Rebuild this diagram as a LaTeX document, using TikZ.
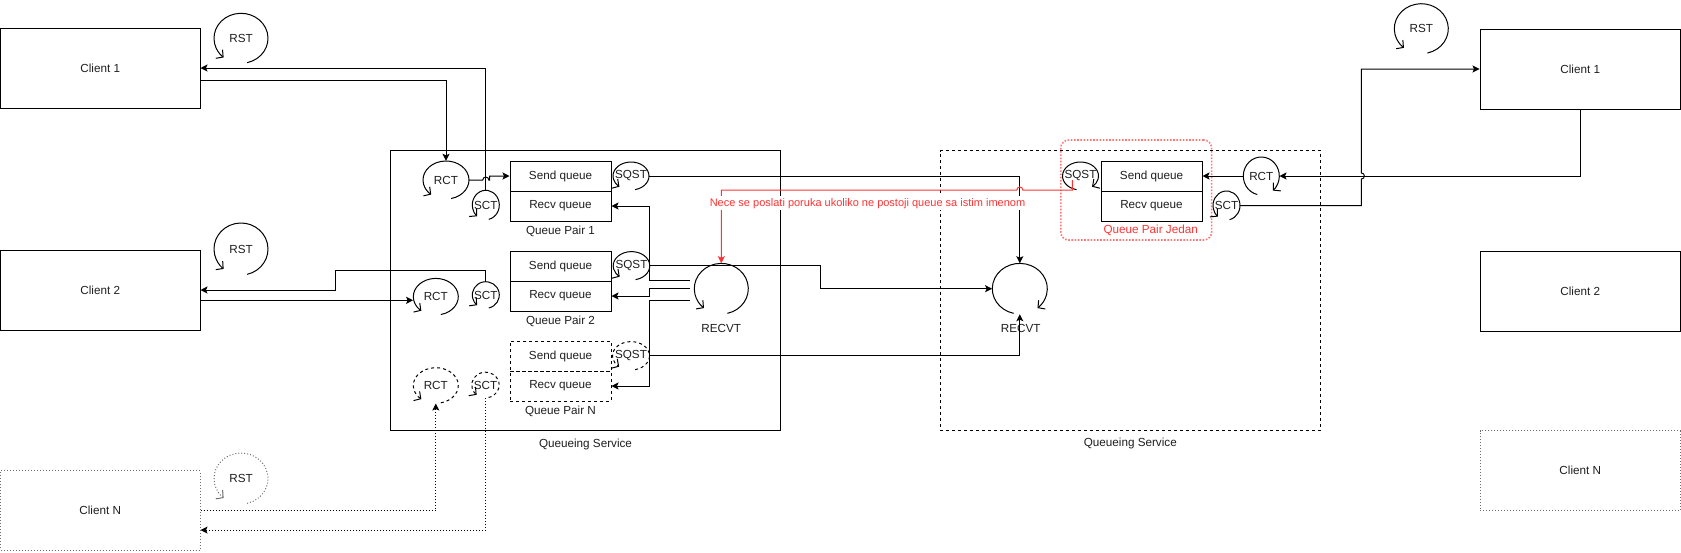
\documentclass[tikz,border=0pt]{standalone}
\usepackage{fontspec}
\setmainfont{Liberation Sans}
\usetikzlibrary{arrows.meta,shapes.geometric,calc}
\definecolor{redc}{RGB}{255,51,51}
\definecolor{pinkc}{RGB}{255,120,120}
\definecolor{grayc}{RGB}{110,110,110}
\definecolor{txt}{RGB}{30,30,30}

\tikzset{
  every node/.style={font=\fontsize{11.7}{14}\selectfont, inner sep=0pt, text=txt},
  clientbox/.style={draw, line width=1pt, minimum width=199.5pt, minimum height=80pt},
  qbox/.style={draw, line width=1pt, minimum width=101pt, minimum height=30pt},
  symnode/.style={inner sep=0pt},
  conn/.style={line width=1pt, -{Stealth[length=7pt,width=7pt,inset=1.5pt]}},
  plainline/.style={line width=1pt},
  cycline/.style={line width=1pt, -{Straight Barb[length=5pt,width=11pt]}},
  dashedb/.style={dash pattern=on 3pt off 3pt},
  dottedg/.style={draw=grayc, dash pattern=on 1pt off 2pt},
  dotconn/.style={dash pattern=on 1pt off 2pt},
}

% normal cycle symbol: arrow at lower left
\newcommand{\cyclsym}[7]{%
  \node[symnode, minimum width=#4*2pt, minimum height=#5*2pt] (#1) at (#2,#3) {#6};
  \draw[cycline,#7] (#1.center) ++(-77:#4pt and #5pt)
    arc[start angle=-77,end angle=230,x radius=#4pt,y radius=#5pt];}
% mirrored cycle symbol: arrow at lower right
\newcommand{\cyclsymm}[7]{%
  \node[symnode, minimum width=#4*2pt, minimum height=#5*2pt] (#1) at (#2,#3) {#6};
  \draw[cycline,#7] (#1.center) ++(257:#4pt and #5pt)
    arc[start angle=257,end angle=-50,x radius=#4pt,y radius=#5pt];}

\begin{document}
\begin{tikzpicture}[x=1pt,y=-1pt]
\useasboundingbox (0,0) rectangle (1681,552);

% ---------- containers ----------
\node[draw, line width=1pt, minimum width=389.3pt, minimum height=279.3pt] (qsL) at (585.35,290.35) {};
\node (qsLl) at (585.5,444) {Queueing Service};
\node[draw, line width=1pt, dashedb, minimum width=380.6pt, minimum height=279.3pt] (qsR) at (1130.3,290.35) {};
\node (qsRl) at (1130.3,443.3) {Queueing Service};
\node[draw=pinkc, line width=1.6pt, dash pattern=on 1.6pt off 1.6pt, rounded corners=8pt,
      minimum width=150.8pt, minimum height=100pt] (qpj) at (1136.2,190) {};

% ---------- clients ----------
\node[clientbox] (c1L) at (100.25,68) {Client 1};
\node[clientbox] (c2L) at (100.25,290) {Client 2};
\node[clientbox, dottedg, minimum height=79.3pt] (cNL) at (100.25,510.35) {Client N};
\node[clientbox, minimum width=200.5pt] (c1R) at (1580.25,69) {Client 1};
\node[clientbox, minimum width=200.5pt] (c2R) at (1580.25,291.7) {Client 2};
\node[clientbox, dottedg, minimum width=200.5pt, minimum height=79.3pt] (cNR) at (1580.25,470.35) {Client N};

% ---------- queue pairs ----------
\node[qbox] (sq1) at (560.5,176) {Send queue};
\node[qbox] (rq1) at (560.5,206) {Recv queue};
\node (qp1l) at (560.5,231) {Queue Pair 1};
\node[qbox] (sq2) at (560.5,266) {Send queue};
\node[qbox] (rq2) at (560.5,296) {Recv queue};
\node (qp2l) at (560.5,321) {Queue Pair 2};
\node[qbox, dashedb] (sqN) at (560.5,356) {Send queue};
\node[qbox, dashedb] (rqN) at (560.5,386) {Recv queue};
\node (qpNl) at (560.5,411) {Queue Pair N};
\node[qbox] (sqR) at (1151.5,176) {Send queue};
\node[qbox] (rqR) at (1151.5,206) {Recv queue};
\node[text=redc] (qpRl) at (1150.7,230.7) {Queue Pair Jedan};

% ---------- cycle symbols ----------
\cyclsym{rst1}{241}{38.3}{27}{25}{RST}{}
\cyclsym{rst2}{241}{249}{27}{26}{RST}{}
\cyclsym{rstN}{241}{478.5}{27}{25.5}{RST}{dottedg}
\cyclsym{rstR}{1421.3}{28.7}{27}{25}{RST}{}
\cyclsym{rct1}{446}{180}{23}{19}{RCT}{}
\cyclsym{sct1}{485.8}{205}{13.5}{14.7}{SCT}{}
\cyclsym{sqst1}{631}{176}{18}{14}{SQST}{}
\cyclsym{rct2}{435.8}{296.7}{22.5}{18.3}{RCT}{}
\cyclsym{sct2}{485.8}{295}{13.5}{13.3}{SCT}{}
\cyclsym{sqst2}{631.5}{265.8}{18.3}{14.2}{SQST}{}
\cyclsym{rctN}{435.8}{385.5}{22.5}{17.8}{RCT}{dashedb}
\cyclsym{sctN}{485.5}{385}{13.8}{12.8}{SCT}{dashedb}
\cyclsym{sqstN}{631}{355.8}{18.5}{14.2}{SQST}{dashedb}
\cyclsym{recvtL}{721.3}{288.7}{27}{25.3}{}{}
\cyclsymm{recvtR}{1019.8}{288.7}{27.5}{25.3}{}{}
\cyclsymm{sqstR}{1080.5}{176}{18}{14}{SQST}{}
\cyclsymm{rctR}{1261.3}{176}{18}{19}{RCT}{}
\cyclsym{sctR}{1226.5}{205.5}{13.5}{14.5}{SCT}{}
\node (recvtLl) at (721.3,328.3) {RECVT};
\node (recvtRl) at (1020.7,328.3) {RECVT};

% ---------- helper coordinates ----------
\coordinate (c1out) at ([yshift=-12.3pt]c1L.east);
\coordinate (c2out) at ([yshift=-10.3pt]c2L.east);
\coordinate (cNin) at ([yshift=-19.7pt]cNL.east);
\coordinate (b11) at (335.7,270.7);
\coordinate (b5) at (820,0);
\coordinate (e1) at ([shift={(-4.3pt,8.7pt)}]recvtL.west);
\coordinate (e2) at ([xshift=-4.3pt]recvtL.west);
\coordinate (e3) at ([shift={(-4.3pt,-12pt)}]recvtL.west);
\coordinate (redstart) at ([shift={(-8.2pt,-4pt)}]sqstR.center);
\coordinate (j3) at (1361.4,179);

% ---------- left connectors ----------
\draw[conn] (c1out) -| (rct1.north);
\draw[conn] (sct1.north) |- (c1L.east);
\draw[conn] (rct1.east) -- (482.8,180) arc[start angle=180,end angle=0,radius=3pt]
  -- (489.5,180) -- (489.5,176) -- (sq1.west);
\draw[conn] (c2out) -- (c2out -| rct2.west);
\draw[conn] (sct2.north) |- (b11) |- (c2L.east);
\draw[conn, dotconn] (cNL.east) -| (rctN.south);
\draw[conn, dotconn] (sctN.south) |- (cNin);

\draw[conn] (e1) -- ++(-40,0) |- (rq1.east);
\draw[conn] (e2) -- ++(-40,0) |- (rq2.east);
\draw[conn] (e3) -- ++(-40,0) |- (rqN.east);

\draw[conn] (sqst1.east) -| (recvtR.north);
\draw[conn] (sqst2.east) -- (sqst2.east -| b5) |- (recvtR.west);
\draw[conn] (sqstN.east) -| (recvtR.south);

% ---------- red connector ----------
\draw[conn, draw=redc, color=redc] (redstart) -- ++(0,10) -- (1022.8,190)
  arc[start angle=0,end angle=180,radius=3pt] -| (recvtL.north);
\node[text=redc, fill=white, inner xsep=1pt, inner ysep=2pt, font=\fontsize{11}{13}\selectfont] (redlbl) at (867.5,203.3)
  {Nece se poslati poruka ukoliko ne postoji queue sa istim imenom};

% ---------- right connectors ----------
\draw[conn] (c1R.south) |- (rctR.east);
\draw[conn] (rctR.west) -- (sqR.east);
\draw[conn] (sctR.east) -| (j3) arc[start angle=-90,end angle=90,radius=3pt] |- (c1R.west);
\end{tikzpicture}
\end{document}
